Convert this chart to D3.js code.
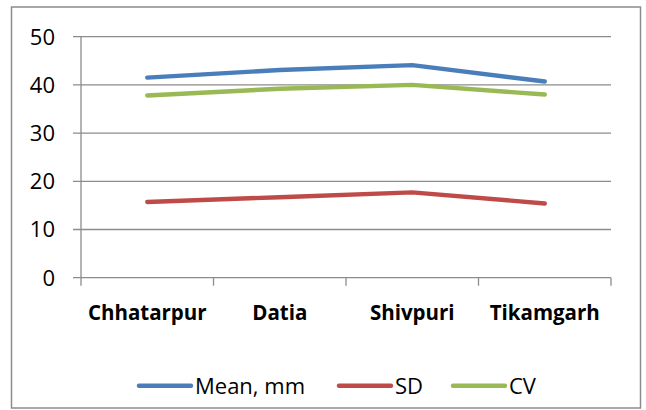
<!DOCTYPE html>
<html><head><meta charset="utf-8">
<script src="https://cdn.jsdelivr.net/npm/d3@7/dist/d3.min.js"></script>
<style>html,body{margin:0;padding:0;background:#fff}svg{display:block}</style>
</head><body>
<svg id="c" width="646" height="410"></svg>
<script>
const categories = ["Chhatarpur", "Datia", "Shivpuri", "Tikamgarh"];
const meanMM = [41.5, 43.1, 44.1, 40.7];
const sd = [15.7, 16.7, 17.7, 15.4];
const cv = [37.8, 39.2, 40.0, 38.0];
const yTicks = [0, 10, 20, 30, 40, 50];
const seriesNames = ["Mean, mm", "SD", "CV"];
const seriesColors = ["#4A7EBB", "#BE4B48", "#98B954"];
const seriesValues = [meanMM, sd, cv];

(function () {
const svg = d3.select("#c");
const font = "'Open Sans', 'Liberation Sans', sans-serif";
const grid = "#8c8c8c";

// outer frame
svg.append("rect").attr("x", 11.5).attr("y", 7).attr("width", 629).attr("height", 401)
  .attr("fill", "#fff").attr("stroke", "#8c8c8c").attr("stroke-width", 1.5);

const pL = 81, pR = 611, pT = 36.7, pB = 277.7;
const x = d3.scaleBand().domain(categories).range([pL, pR]);
const y = d3.scaleLinear().domain([0, 50]).range([pB, pT]);

// gridlines + y tick marks
svg.append("g").selectAll("line").data(yTicks).join("line")
  .attr("x1", pL - 8).attr("x2", pR)
  .attr("y1", d => y(d)).attr("y2", d => y(d))
  .attr("stroke", grid).attr("stroke-width", 1.3);

// y axis line
svg.append("line").attr("x1", pL).attr("x2", pL).attr("y1", pT).attr("y2", pB + 8)
  .attr("stroke", grid).attr("stroke-width", 1.3);

// x tick marks at band boundaries
const bounds = categories.map(c => x(c)).concat([pR]);
svg.append("g").selectAll("line").data(bounds.slice(1)).join("line")
  .attr("x1", d => d).attr("x2", d => d).attr("y1", pB).attr("y2", pB + 8)
  .attr("stroke", grid).attr("stroke-width", 1.3);

// y tick labels
svg.append("g").selectAll("text").data(yTicks).join("text")
  .attr("x", 55).attr("y", d => y(d)).attr("dy", "0.36em")
  .attr("text-anchor", "end").attr("font-family", font).attr("font-size", 22)
  .attr("fill", "#000").text(d => d);

// category labels
svg.append("g").selectAll("text").data(categories).join("text")
  .attr("x", d => x(d) + x.bandwidth() / 2).attr("y", 319.5).attr("text-anchor", "middle")
  .attr("font-family", font).attr("font-weight", "bold").attr("font-size", 20.5)
  .attr("fill", "#000").text(d => d);

// lines
const line = d3.line().x((d, i) => x(categories[i]) + x.bandwidth() / 2).y(d => y(d));
seriesValues.forEach((vals, k) => {
  svg.append("path").datum(vals).attr("d", line).attr("fill", "none")
    .attr("stroke", seriesColors[k]).attr("stroke-width", 4.4)
    .attr("stroke-linecap", "round").attr("stroke-linejoin", "round");
});

// legend
const legendX = [137, 337, 451];
const lg = svg.append("g");
seriesNames.forEach((n, k) => {
  lg.append("line").attr("x1", legendX[k] + 2).attr("x2", legendX[k] + 54)
    .attr("y1", 385.7).attr("y2", 385.7).attr("stroke", seriesColors[k])
    .attr("stroke-width", 4.4).attr("stroke-linecap", "round");
  lg.append("text").attr("x", legendX[k] + 58).attr("y", 385.7).attr("dy", "0.36em")
    .attr("font-family", font).attr("font-size", 22).attr("fill", "#000").text(n);
});
})();
</script>
</body></html>
